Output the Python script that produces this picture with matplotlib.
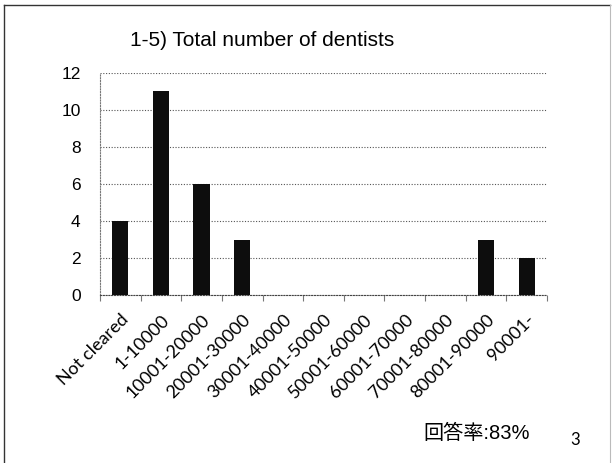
import matplotlib
matplotlib.use("Agg")
import matplotlib.pyplot as plt
from matplotlib.lines import Line2D

plt.rcParams['font.family'] = ['Liberation Sans', 'Noto Sans CJK JP', 'DejaVu Sans']

categories = ["Not cleared", "1-10000", "10001-20000", "20001-30000", "30001-40000",
              "40001-50000", "50001-60000", "60001-70000", "70001-80000",
              "80001-90000", "90001-"]
counts = [4, 11, 6, 3, 0, 0, 0, 0, 0, 3, 2]
y_ticks = [0, 2, 4, 6, 8, 10, 12]

fig = plt.figure(figsize=(6.14, 4.63), dpi=100)
ax = fig.add_axes([100 / 614, 1 - 295 / 463, 447 / 614, 222 / 463])

x = list(range(len(categories)))
ax.bar(x, counts, width=0.4, color="#0d0d0d", zorder=3)

ax.set_xlim(-0.5, len(categories) - 0.5)
ax.set_ylim(0, 12)
ax.set_yticks(y_ticks)
ax.set_yticklabels([str(v) for v in y_ticks], fontsize=12.5)
ax.grid(axis="y", linestyle=(0, (1, 1.5)), color="#555555", linewidth=0.8, zorder=0)

# category boundary ticks below the axis
ax.set_xticks([i - 0.5 for i in range(len(categories) + 1)])
ax.set_xticklabels([])
ax.set_xticks(x, minor=True)
ax.set_xticklabels(categories, minor=True, rotation=45, ha="right",
                   rotation_mode="anchor", fontsize=13, family=["Lato", "DejaVu Sans"])
ax.tick_params(axis="x", which="minor", length=0, pad=12)
ax.tick_params(axis="x", which="major", length=4, color="#777777", direction="out")
ax.tick_params(axis="y", length=0, pad=14)

for side in ["top", "right"]:
    ax.spines[side].set_visible(False)
ax.spines["left"].set_linestyle((0, (1, 1.5)))
ax.spines["left"].set_color("#777777")
ax.spines["bottom"].set_linestyle((0, (1, 1.5)))
ax.spines["bottom"].set_color("#444444")

fig.text(262 / 614, 1 - 40 / 463, "1-5) Total number of dentists", ha="center",
         va="center", fontsize=15)
fig.text(477 / 614, 1 - 433 / 463, "回答率:83%", ha="center", va="center", fontsize=14.5)
fig.text(575 / 614, 1 - 440 / 463, "3", ha="center", va="center", fontsize=12,
         family=["Lato", "DejaVu Sans"])

# slide frame
fig.add_artist(Line2D([4 / 614, 4 / 614], [0, 1 - 5 / 463], color="#333333", linewidth=1))
fig.add_artist(Line2D([4 / 614, 610 / 614], [1 - 5 / 463, 1 - 5 / 463], color="#333333", linewidth=1))
fig.add_artist(Line2D([610 / 614, 610 / 614], [0, 1 - 5 / 463], color="#bbbbbb", linewidth=0.8))

fig.savefig("out.png", dpi=100)
